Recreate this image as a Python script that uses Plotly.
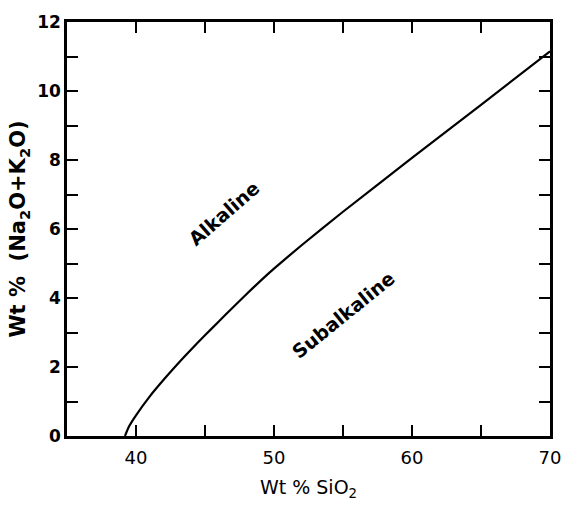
import plotly.graph_objects as go

# Alkaline / Subalkaline dividing curve
sio2 = [39.2, 39.5, 40.0, 41.0, 42.0, 43.0, 44.0, 45.0, 46.0, 47.0, 48.0, 49.0, 50.0, 52.0, 55.0, 60.0, 65.0, 70.0]
alk = [0.0, 0.28, 0.6, 1.15, 1.63, 2.08, 2.51, 2.92, 3.32, 3.72, 4.11, 4.49, 4.85, 5.53, 6.5, 8.06, 9.6, 11.15]

x_ticks = [40, 50, 60, 70]
y_ticks = [0, 2, 4, 6, 8, 10, 12]

region_labels = ["Alkaline", "Subalkaline"]
region_x = [46.4, 55.0]
region_y = [6.45, 3.5]
region_angle = [-41, -39]

font_family = "DejaVu Sans"

fig = go.Figure()
fig.add_trace(go.Scatter(x=sio2, y=alk, mode="lines",
                         line=dict(color="black", width=2.2, shape="spline", smoothing=0.5),
                         showlegend=False, hoverinfo="skip"))

for t, xx, yy, a in zip(region_labels, region_x, region_y, region_angle):
    fig.add_annotation(x=xx, y=yy, text=t, showarrow=False, textangle=a,
                       font=dict(family=font_family, size=19, color="black", weight=600))

axis_common = dict(showline=True, linecolor="black", linewidth=2.5, mirror="allticks",
                   ticks="inside", ticklen=11, tickwidth=2, tickcolor="black",
                   showgrid=False, zeroline=False)

fig.update_xaxes(range=[35, 70], tickvals=x_ticks, ticklabelstandoff=4,
                 tickfont=dict(family=font_family, size=18, color="black"),
                 minor=dict(dtick=5, tick0=35, ticks="inside", ticklen=11, tickwidth=2, tickcolor="black"),
                 title=dict(text="Wt % SiO<sub>2</sub>", standoff=14,
                            font=dict(family=font_family, size=19, color="black")),
                 **axis_common)
fig.update_yaxes(range=[0, 12], tickvals=y_ticks,
                 tickfont=dict(family=font_family, size=17, color="black", weight="bold"),
                 minor=dict(dtick=1, tick0=0, ticks="inside", ticklen=11, tickwidth=2, tickcolor="black"),
                 title=dict(text="Wt %&nbsp;&nbsp;(Na<sub>2</sub>O+K<sub>2</sub>O)", standoff=6,
                            font=dict(family=font_family, size=21, color="black", weight="bold")),
                 **axis_common)

fig.update_layout(width=573, height=508, margin=dict(l=67, r=13, t=15, b=69),
                  plot_bgcolor="white", paper_bgcolor="white")

fig.write_html("out.html")
